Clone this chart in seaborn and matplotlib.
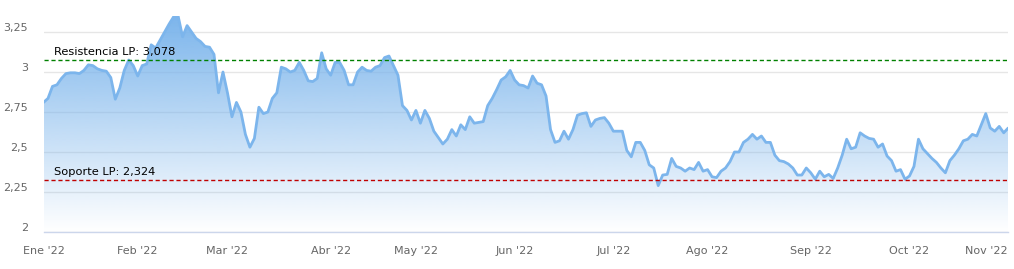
import numpy as np
import pandas as pd
import matplotlib
matplotlib.use("Agg")
import matplotlib.pyplot as plt
import seaborn as sns
from matplotlib.transforms import ScaledTranslation, blended_transform_factory
from matplotlib.colors import to_rgb

# ---------------- data ----------------
holidays = ["2022-04-15", "2022-04-18"]
dates = pd.bdate_range("2022-01-03", "2022-11-02")
dates = dates[~dates.isin(pd.to_datetime(holidays))]

values = [
    2.81, 2.835, 2.91, 2.92, 2.96, 2.99, 2.995, 2.995, 2.99, 3.01,
    3.045, 3.04, 3.02, 3.01, 3.005, 2.965, 2.83, 2.90, 3.01, 3.075,
    3.04, 2.975, 3.04, 3.05, 3.17, 3.15, 3.20, 3.25, 3.30, 3.345,
    3.35, 3.22, 3.29, 3.25, 3.21, 3.19, 3.16, 3.155, 3.11, 2.87,
    3.00, 2.87, 2.72, 2.81, 2.75, 2.61, 2.53, 2.585, 2.78, 2.74,
    2.75, 2.835, 2.87, 3.03, 3.02, 3.00, 3.01, 3.06, 3.01, 2.945,
    2.94, 2.96, 3.12, 3.02, 2.98, 3.06, 3.06, 3.01, 2.92, 2.92,
    3.00, 3.03, 3.01, 3.005, 3.03, 3.04, 3.09, 3.10, 3.04, 2.98,
    2.79, 2.76, 2.70, 2.76, 2.68, 2.76, 2.71, 2.63, 2.59, 2.55,
    2.58, 2.64, 2.60, 2.67, 2.64, 2.72, 2.68, 2.685, 2.69, 2.79,
    2.835, 2.89, 2.95, 2.97, 3.01, 2.95, 2.92, 2.915, 2.90, 2.975,
    2.93, 2.92, 2.85, 2.64, 2.56, 2.57, 2.63, 2.58, 2.64, 2.73,
    2.74, 2.745, 2.66, 2.70, 2.71, 2.715, 2.68, 2.63, 2.63, 2.63,
    2.51, 2.47, 2.56, 2.56, 2.51, 2.42, 2.40, 2.29, 2.356, 2.36,
    2.46, 2.41, 2.40, 2.38, 2.40, 2.39, 2.435, 2.38, 2.39, 2.345,
    2.34, 2.38, 2.40, 2.44, 2.50, 2.50, 2.56, 2.58, 2.61, 2.58,
    2.60, 2.56, 2.56, 2.48, 2.446, 2.44, 2.425, 2.40, 2.356, 2.356,
    2.40, 2.37, 2.33, 2.38, 2.345, 2.36, 2.335, 2.40, 2.48, 2.58,
    2.52, 2.53, 2.62, 2.60, 2.585, 2.58, 2.53, 2.55, 2.475, 2.446,
    2.38, 2.39, 2.33, 2.35, 2.41, 2.58, 2.52, 2.49, 2.46, 2.435,
    2.40, 2.37, 2.446, 2.48, 2.52, 2.57, 2.58, 2.61, 2.60, 2.67,
    2.74, 2.65, 2.63, 2.66, 2.62, 2.65,
]

month_labels = ["Ene '22", "Feb '22", "Mar '22", "Abr '22", "May '22", "Jun '22",
                "Jul '22", "Ago '22", "Sep '22", "Oct '22", "Nov '22"]
ytick_values = [2, 2.25, 2.5, 2.75, 3, 3.25]
ytick_labels = ["2", "2,25", "2,5", "2,75", "3", "3,25"]
resistance = 3.078
support = 2.324
resistance_label = "Resistencia LP: 3,078"
support_label = "Soporte LP: 2,324"

# ---------------- figure ----------------
df = pd.DataFrame({"idx": np.arange(len(values)), "price": values, "date": dates[:len(values)]})
month_starts = df.groupby(df["date"].dt.to_period("M"))["idx"].min().tolist()

sns.set_theme(style="white")
plt.rcParams["font.family"] = ["DejaVu Sans"]

W, H = 1014, 269
fig = plt.figure(figsize=(W / 100, H / 100), dpi=100)
left_px, right_px, top_px, bottom_px = 43.5, 1008.2, 16, 232
ax = fig.add_axes([left_px / W, (H - bottom_px) / H,
                   (right_px - left_px) / W, (bottom_px - top_px) / H])

ymin, ymax = 2.0, 3.35
xmax = len(values) - 1
ax.set_xlim(0, xmax)
ax.set_ylim(ymin, ymax)

line_color = "#7cb5ec"

# gradient area fill
poly = ax.fill_between(df["idx"], df["price"], ymin, facecolor="none", edgecolor="none")
n = 256
rgba = np.zeros((n, 1, 4))
rgba[..., :3] = to_rgb(line_color)
rgba[:, 0, 3] = np.linspace(0.0, 1.0, n)
im = ax.imshow(rgba, extent=[0, xmax, ymin, ymax], origin="lower",
               aspect="auto", zorder=1, interpolation="bilinear")
im.set_clip_path(poly.get_paths()[0], transform=ax.transData)

sns.lineplot(data=df, x="idx", y="price", color=line_color, linewidth=2,
             ax=ax, zorder=3)

# reference lines
trans = blended_transform_factory(ax.transAxes, ax.transData)
ax.axhline(resistance, color="#008000", linestyle=(0, (3, 2)), linewidth=1, zorder=4)
ax.axhline(support, color="#c00000", linestyle=(0, (3, 2)), linewidth=1, zorder=4)
ax.annotate(resistance_label, xy=(0.011, resistance), xycoords=trans,
            xytext=(0, 3.6), textcoords="offset points", fontsize=8.2,
            color="#000000", va="baseline", ha="left", zorder=5)
ax.annotate(support_label, xy=(0.011, support), xycoords=trans,
            xytext=(0, 3.6), textcoords="offset points", fontsize=8.2,
            color="#000000", va="baseline", ha="left", zorder=5)

# grid and axes
ax.set_yticks(ytick_values)
ax.set_yticklabels(ytick_labels)
ax.yaxis.grid(True, color="#e6e6e6", linewidth=1)
ax.xaxis.grid(False)
ax.set_axisbelow(True)
ax.set_xticks(month_starts)
ax.set_xticklabels(month_labels[:len(month_starts)])
ax.set_xlabel("")
ax.set_ylabel("")
for s in ["top", "right", "left"]:
    ax.spines[s].set_visible(False)
ax.spines["bottom"].set_color("#ccd6eb")
ax.spines["bottom"].set_linewidth(1)
ax.tick_params(axis="x", direction="out", length=7, width=1, color="#ccd6eb",
               labelcolor="#666666", labelsize=8, pad=3)
ax.tick_params(axis="y", length=0, labelcolor="#666666", labelsize=8, pad=11)
for lab in ax.get_yticklabels():
    lab.set_transform(lab.get_transform() + ScaledTranslation(0, 5 / 100, fig.dpi_scale_trans))
# keep the last month label inside the figure (as the reference does)
xlabs = ax.get_xticklabels()
xlabs[-1].set_horizontalalignment("right")
xlabs[-1].set_transform(xlabs[-1].get_transform() + ScaledTranslation(4 / 100, 0, fig.dpi_scale_trans))

fig.savefig("out.png", dpi=100, facecolor="white")
